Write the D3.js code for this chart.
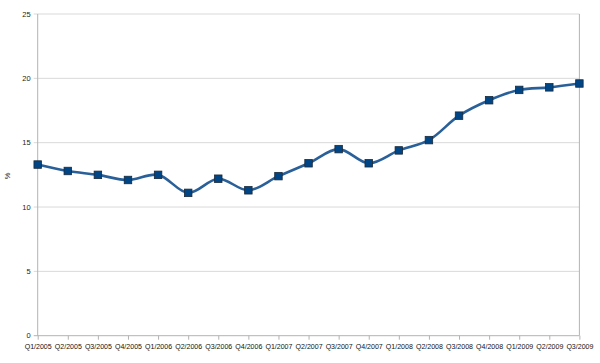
<!DOCTYPE html>
<html><head><meta charset="utf-8">
<script src="https://cdn.jsdelivr.net/npm/d3@7"></script>
<style>body{margin:0;background:#fff}svg{display:block}</style>
</head><body>
<svg id="c" width="600" height="363"></svg>
<script>
const categories = ["Q1/2005","Q2/2005","Q3/2005","Q4/2005","Q1/2006","Q2/2006","Q3/2006","Q4/2006","Q1/2007","Q2/2007","Q3/2007","Q4/2007","Q1/2008","Q2/2008","Q3/2008","Q4/2008","Q1/2009","Q2/2009","Q3/2009"];
const values = [13.3,12.8,12.5,12.1,12.5,11.1,12.2,11.3,12.4,13.4,14.5,13.4,14.4,15.2,17.1,18.3,19.1,19.3,19.6];
const yTicks = [0,5,10,15,20,25];
const yLabel = "%";

const svg = d3.select("#c");
const L = 37.7, R = 579.4, T = 14, B = 335.7;
const x = d3.scalePoint().domain(categories).range([L, R]);
const y = d3.scaleLinear().domain([0, 25]).range([B, T]);
const font = "Liberation Sans, Arial, sans-serif";

// gridlines
svg.append("g").selectAll("line").data(yTicks).join("line")
  .attr("x1", L - 4).attr("x2", R)
  .attr("y1", d => y(d)).attr("y2", d => y(d))
  .attr("stroke", d => d === 0 ? "#b3b3b3" : "#d9d9d9").attr("stroke-width", 1);
// left & right borders
svg.append("line").attr("x1", L).attr("x2", L).attr("y1", T).attr("y2", B).attr("stroke", "#b3b3b3");
svg.append("line").attr("x1", R).attr("x2", R).attr("y1", T).attr("y2", B).attr("stroke", "#b3b3b3");

// y labels
svg.append("g").selectAll("text").data(yTicks).join("text")
  .attr("x", L - 7).attr("y", d => y(d)).attr("dy", "0.35em")
  .attr("text-anchor", "end").attr("font-family", font).attr("font-size", 7.5)
  .attr("fill", "#222").text(d => d);

// x axis ticks & labels
const xa = d3.axisBottom(x).tickSize(4).tickPadding(4);
const gx = svg.append("g").attr("transform", `translate(0,${B})`).call(xa);
gx.select(".domain").remove();
gx.selectAll(".tick line").attr("stroke", "#b3b3b3");
gx.selectAll(".tick text").attr("font-family", font).attr("font-size", 7.3).attr("fill", "#111")
  .attr("textLength", 27).attr("lengthAdjust", "spacingAndGlyphs");

// y title
svg.append("text").attr("transform", `translate(10,${(T + B) / 2 + 1}) rotate(-90)`)
  .attr("text-anchor", "middle").attr("font-family", font).attr("font-size", 7.5)
  .attr("fill", "#222").text(yLabel);

// line
const line = d3.line().x((d, i) => x(categories[i])).y(d => y(d)).curve(d3.curveCatmullRom.alpha(0.5));
svg.append("path").datum(values).attr("d", line).attr("fill", "none")
  .attr("stroke", "#2a6099").attr("stroke-width", 2.6).attr("stroke-linejoin", "round");

// markers
const s = 7.5;
svg.append("g").selectAll("rect").data(values).join("rect")
  .attr("x", (d, i) => x(categories[i]) - s / 2).attr("y", d => y(d) - s / 2)
  .attr("width", s).attr("height", s)
  .attr("fill", "#004586").attr("stroke", "#1a2a3a").attr("stroke-width", 0.8);
</script>
</body></html>
